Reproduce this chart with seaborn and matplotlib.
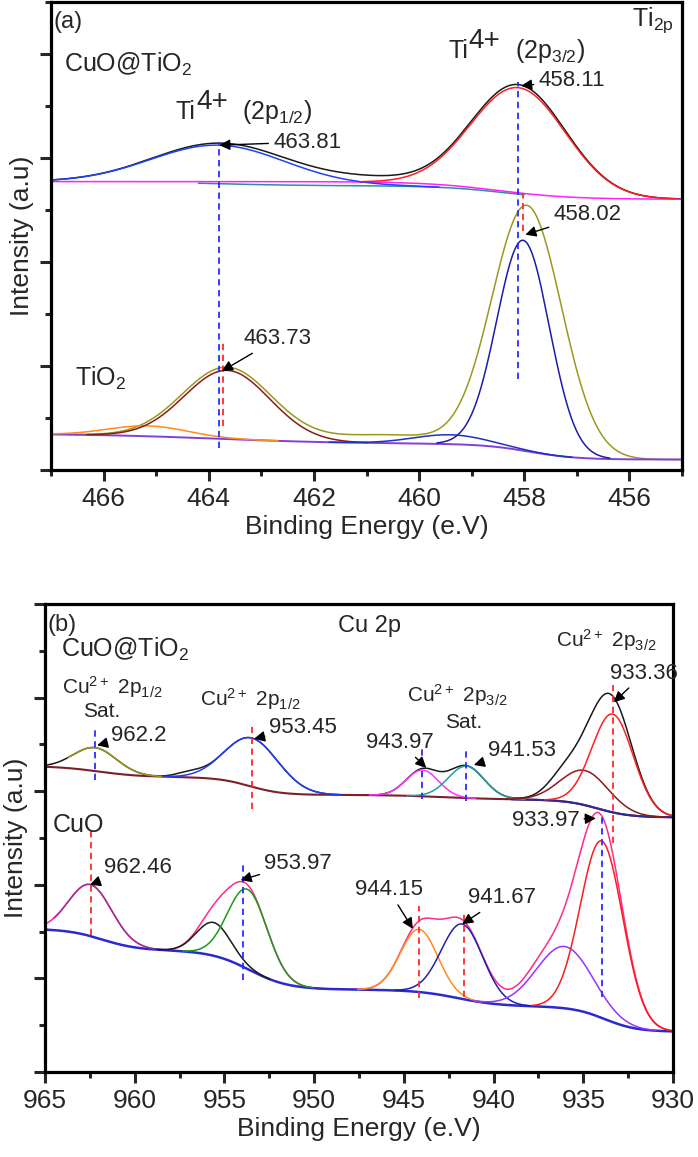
import numpy as np
import matplotlib
matplotlib.use("Agg")
import matplotlib.pyplot as plt
import seaborn as sns
from matplotlib.ticker import MultipleLocator

# ---------------- panel (a): Ti 2p ----------------
# peaks are (centre eV, height a.u., sigma eV),
# backgrounds are a base level plus smooth Shirley-like steps
a1_bg_base, a1_bg_cent, a1_bg_step, a1_bg_wid = 2.60, [458.5], [0.17], [0.7]
a1_bg2_base, a1_bg2_cent, a1_bg2_step, a1_bg2_wid = 2.60, [458.4, 463.8], [0.13, 0.04], [0.6, 0.8]
a1_cent = [463.81, 458.11]
a1_height = [0.37, 1.01]
a1_sigma = [1.27, 0.90]
a1_colors = ["#2040ff", "#ff1f1f"]
a1_data_cent = [463.81, 458.11, 460.8]
a1_data_height = [0.37, 1.04, 0.03]
a1_data_sigma = [1.27, 0.90, 0.8]

a2_bg_base, a2_bg_cent, a2_bg_step, a2_bg_wid = 0.10, [457.9, 463.8], [0.15, 0.10], [0.45, 1.3]
a2_cent = [465.15, 463.65, 459.4, 458.02]
a2_height = [0.10, 0.66, 0.09, 2.02]
a2_sigma = [0.75, 0.81, 0.70, 0.50]
a2_colors = ["#ff8c1a", "#8b1a1a", "#2030c0", "#1c1ca8"]
a2_data_cent = [457.95, 463.65, 460.6]
a2_data_height = [2.36, 0.69, 0.08]
a2_data_sigma = [0.66, 0.85, 1.0]

a_vl_x = [463.81, 458.11, 463.73, 458.02]
a_vl_lo = [0.21, 0.87, 0.42, 2.30]
a_vl_hi = [3.15, 3.73, 1.23, 2.66]
a_vl_col = ["#2b2bff", "#2b2bff", "#ff2b2b", "#ff2b2b"]

a_lab = ["463.81", "458.11", "458.02", "463.73"]
a_lab_xy = [(462.13, 3.15), (457.1, 3.74), (456.8, 2.45), (462.7, 1.26)]
a_tip_xy = [(463.8, 3.12), (458.06, 3.69), (457.98, 2.26), (463.75, 0.95)]

# ---------------- panel (b): Cu 2p ----------------
b1_bg_base, b1_bg_cent, b1_bg_step, b1_bg_wid = 2.72, [934.2, 942.5, 953.6, 962.0], [0.19, 0.05, 0.19, 0.12], [0.9, 1.5, 0.9, 1.2]
b1_cent = [962.2, 953.45, 943.97, 941.53, 934.9, 933.36]
b1_height = [0.25, 0.52, 0.28, 0.34, 0.37, 1.05]
b1_sigma = [1.2, 1.5, 0.9, 1.0, 1.35, 1.15]
b1_colors = ["#9a9a22", "#2040ff", "#ff33ff", "#20a0a0", "#8b1a1a", "#ff1f1f"]
b1_extra_cent = [957.0, 936.2]
b1_extra_height = [0.04, 0.10]
b1_extra_sigma = [0.7, 0.8]

b2_bg_base, b2_bg_cent, b2_bg_step, b2_bg_wid = 0.43, [933.8, 942.0, 953.6, 961.8], [0.27, 0.18, 0.42, 0.23], [0.9, 1.2, 1.1, 1.0]
b2_cent = [962.46, 955.6, 953.7, 944.15, 941.75, 936.05, 933.97]
b2_height = [0.55, 0.355, 0.85, 0.67, 0.80, 0.66, 1.89]
b2_sigma = [1.2, 0.95, 1.1, 1.04, 1.15, 1.55, 1.18]
b2_colors = ["#993399", "#1a1a1a", "#1a9a1a", "#ff8c1a", "#2020b0", "#9933ff", "#ff1a1a"]
b2_extra_cent = [937.6]
b2_extra_height = [0.08]
b2_extra_sigma = [0.9]

b_vl_x = [962.2, 953.45, 943.97, 941.53, 933.36, 962.46, 953.97, 944.15, 941.67, 933.97]
b_vl_lo = [3.12, 2.81, 2.92, 2.90, 2.45, 1.46, 0.98, 0.79, 0.80, 0.80]
b_vl_hi = [3.67, 3.72, 3.45, 3.45, 4.13, 2.62, 2.23, 1.77, 1.71, 2.77]
b_vl_col = ["#2b2bff", "#ff2b2b", "#2b2bff", "#2b2bff", "#ff2b2b",
            "#ff2b2b", "#2b2bff", "#ff2b2b", "#ff2b2b", "#2b2bff"]

b_lab = ["933.36", "962.2", "953.45", "943.97", "941.53",
         "933.97", "962.46", "953.97", "944.15", "941.67"]
b_lab_xy = [(931.6, 4.26), (959.8, 3.60), (950.6, 3.68), (945.2, 3.52), (938.4, 3.44),
            (937.1, 2.69), (959.8, 2.19), (950.9, 2.23), (945.85, 1.945), (939.55, 1.86)]
b_tip_xy = [(933.3, 3.95), (962.1, 3.49), (953.35, 3.56), (943.75, 3.25), (941.1, 3.28),
            (934.3, 2.71), (962.5, 2.0), (954.1, 2.05), (944.5, 1.53), (941.75, 1.58)]


def gauss(x, c, h, s):
    return h * np.exp(-0.5 * ((x - c) / s) ** 2)


def shirley(x, base, cents, steps, widths):
    y = np.full_like(x, base, dtype=float)
    for c, h, w in zip(cents, steps, widths):
        y += h / (1 + np.exp(-(x - c) / w))
    return y


def line(ax, x, y, color, lw=1.1):
    sns.lineplot(x=x, y=y, ax=ax, color=color, linewidth=lw,
                 estimator=None, sort=False, legend=False)


def peaks(ax, x, bg, cents, heights, sigmas, colors, spans=None):
    spans = spans or {}
    for i, (c, h, s, col) in enumerate(zip(cents, heights, sigmas, colors)):
        lo, hi = spans.get(i, (c - 3.3 * s, c + 3.3 * s))
        m = (x >= lo) & (x <= hi)
        line(ax, x[m], bg[m] + gauss(x[m], c, h, s), col)


def data_curve(x, bg, cents, heights, sigmas):
    y = bg.copy()
    for c, h, s in zip(cents, heights, sigmas):
        y += gauss(x, c, h, s)
    return y


def style_axes(ax, xlim, ylim, xmaj, xmin):
    ax.set_xlim(*xlim)
    ax.set_ylim(*ylim)
    ax.xaxis.set_major_locator(MultipleLocator(xmaj))
    ax.xaxis.set_minor_locator(MultipleLocator(xmin))
    ax.yaxis.set_major_locator(MultipleLocator(1))
    ax.yaxis.set_minor_locator(MultipleLocator(0.5))
    ax.tick_params(which="major", direction="out", length=8, width=2.2, labelsize=19, pad=4,
                   top=False, right=False)
    ax.tick_params(which="minor", direction="out", length=4, width=2.2, top=False, right=False)
    ax.tick_params(axis="y", labelleft=False)
    for sp in ax.spines.values():
        sp.set_visible(True)
        sp.set_linewidth(2.3)
        sp.set_color("black")
    ax.set_xlabel("Binding Energy (e.V)", fontsize=19, labelpad=3)
    ax.set_ylabel("Intensity (a.u)", fontsize=19, labelpad=4)


sns.set_theme(style="ticks")
plt.rcParams["font.family"] = ["Liberation Sans", "DejaVu Sans"]
plt.rcParams["mathtext.default"] = "regular"

fig = plt.figure(figsize=(6.98, 11.57), dpi=100)
ax_a = fig.add_axes([51 / 698, 1 - 470 / 1157, 631 / 698, 468.5 / 1157])
ax_b = fig.add_axes([45 / 698, 1 - 1072 / 1157, 628 / 698, 468 / 1157])

# ---- panel (a)
xa = np.linspace(455, 467, 1201)
bg_a1 = shirley(xa, a1_bg_base, a1_bg_cent, a1_bg_step, a1_bg_wid)
bg_a1b = shirley(xa, a1_bg2_base, a1_bg2_cent, a1_bg2_step, a1_bg2_wid)
bg_a2 = shirley(xa, a2_bg_base, a2_bg_cent, a2_bg_step, a2_bg_wid)

line(ax_a, xa, data_curve(xa, bg_a1, a1_data_cent, a1_data_height, a1_data_sigma), "#1a1a1a")
m = (xa >= 458.0) & (xa <= 464.2)
line(ax_a, xa[m], bg_a1b[m], "#2a8fa0")
line(ax_a, xa, bg_a1, "#ff20ff")
peaks(ax_a, xa, bg_a1b, a1_cent[:1], a1_height[:1], a1_sigma[:1], a1_colors[:1])
peaks(ax_a, xa, bg_a1, a1_cent[1:], a1_height[1:], a1_sigma[1:], a1_colors[1:])

line(ax_a, xa, data_curve(xa, bg_a2, a2_data_cent, a2_data_height, a2_data_sigma), "#99991f")
line(ax_a, xa, bg_a2, "#8040d8", lw=1.4)
peaks(ax_a, xa, bg_a2, a2_cent, a2_height, a2_sigma, a2_colors)

ax_a.vlines(a_vl_x, a_vl_lo, a_vl_hi, colors=a_vl_col, linestyles=(0, (3.5, 2.5)), linewidth=1.3)
for t, xy, tip in zip(a_lab, a_lab_xy, a_tip_xy):
    ax_a.annotate(t, xy=tip, xytext=xy, ha="center", va="center", fontsize=16,
                  arrowprops=dict(arrowstyle="-|>", color="black", lw=1.0, mutation_scale=16,
                                  shrinkA=1, shrinkB=0))

ax_a.text(466.95, 4.30, "(a)", fontsize=17, ha="left", va="center")
ax_a.text(455.15, 4.32, "Ti$_{2p}$", fontsize=18, ha="right", va="center")
ax_a.text(466.75, 3.90, "CuO@TiO$_2$", fontsize=18, ha="left", va="center")
ax_a.text(466.55, 0.88, "TiO$_2$", fontsize=18, ha="left", va="center")
for x0, y0, sub in [(464.63, 3.37, "1/2"), (459.45, 3.96, "3/2")]:
    ax_a.text(x0, y0, "Ti", fontsize=18, ha="left", va="baseline")
    ax_a.annotate("4+", xy=(x0, y0), xytext=(15, 7), textcoords="offset points",
                  fontsize=20, ha="left", va="baseline")
    ax_a.annotate("(2p$_{%s}$)" % sub, xy=(x0, y0), xytext=(48, 0), textcoords="offset points",
                  fontsize=18, ha="left", va="baseline")
style_axes(ax_a, (467, 455), (0, 4.5), 2, 1)

# ---- panel (b)
xb = np.linspace(930, 965, 1401)
bg_b1 = shirley(xb, b1_bg_base, b1_bg_cent, b1_bg_step, b1_bg_wid)
bg_b2 = shirley(xb, b2_bg_base, b2_bg_cent, b2_bg_step, b2_bg_wid)

y_b1 = data_curve(xb, bg_b1, b1_cent + b1_extra_cent, b1_height + b1_extra_height,
                  b1_sigma + b1_extra_sigma)
line(ax_b, xb, y_b1, "#1a1a1a")
line(ax_b, xb, bg_b1, "#7a1f2b", lw=1.5)
m = xb <= 939.0
line(ax_b, xb[m], bg_b1[m], "#2a2a9a", lw=1.5)
peaks(ax_b, xb, bg_b1, b1_cent, b1_height, b1_sigma, b1_colors, spans={0: (958.5, 963.7)})

y_b2 = data_curve(xb, bg_b2, b2_cent + b2_extra_cent, b2_height + b2_extra_height,
                  b2_sigma + b2_extra_sigma)
line(ax_b, xb, y_b2, "#ff2a8a")
line(ax_b, xb, bg_b2, "#2a2ad0", lw=1.8)
peaks(ax_b, xb, bg_b2, b2_cent, b2_height, b2_sigma, b2_colors, spans={0: (959.0, 964.5)})

ax_b.vlines(b_vl_x, b_vl_lo, b_vl_hi, colors=b_vl_col, linestyles=(0, (3.5, 2.5)), linewidth=1.3)
for t, xy, tip in zip(b_lab, b_lab_xy, b_tip_xy):
    ax_b.annotate(t, xy=tip, xytext=xy, ha="center", va="center", fontsize=16,
                  arrowprops=dict(arrowstyle="-|>", color="black", lw=1.0, mutation_scale=16,
                                  shrinkA=1, shrinkB=0))

ax_b.text(964.87, 4.78, "(b)", fontsize=17, ha="left", va="center")
ax_b.text(946.92, 4.76, "Cu 2p", fontsize=17, ha="center", va="center")
ax_b.text(964.12, 4.51, "CuO@TiO$_2$", fontsize=18, ha="left", va="center")
ax_b.text(964.55, 2.64, "CuO", fontsize=18, ha="left", va="center")
ax_b.text(961.23, 4.11, "Cu$^{2+}$ 2p$_{1/2}$", fontsize=15, ha="center", va="center")
ax_b.text(961.86, 3.85, "Sat.", fontsize=15, ha="center", va="center")
ax_b.text(953.57, 3.98, "Cu$^{2+}$ 2p$_{1/2}$", fontsize=15, ha="center", va="center")
ax_b.text(942.02, 4.03, "Cu$^{2+}$ 2p$_{3/2}$", fontsize=15, ha="center", va="center")
ax_b.text(941.66, 3.73, "Sat.", fontsize=15, ha="center", va="center")
ax_b.text(933.73, 4.61, "Cu$^{2+}$ 2p$_{3/2}$", fontsize=15, ha="center", va="center")
style_axes(ax_b, (965, 930), (0, 5), 5, 2.5)

fig.savefig("out.png", dpi=100)
